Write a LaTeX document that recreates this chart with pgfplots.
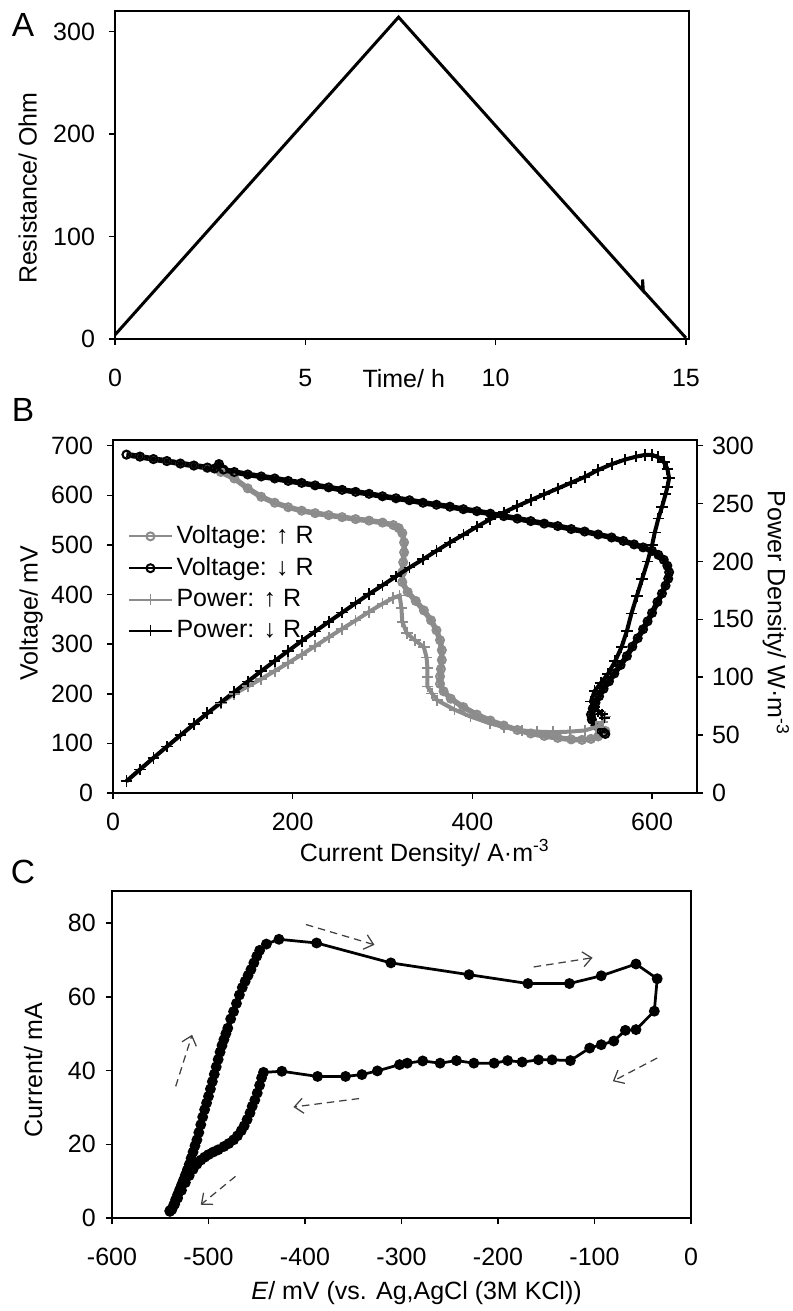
\documentclass[border=0pt]{standalone}
\usepackage{fontspec}
\setmainfont{Liberation Sans}
\usepackage{pgfplots}
\pgfplotsset{compat=1.18}
\usetikzlibrary{arrows.meta}
\definecolor{grayR}{gray}{0.55}
\definecolor{arr}{gray}{0.25}
\begin{document}
\fontsize{10}{12}\selectfont
\begin{tikzpicture}
\useasboundingbox (0,0) rectangle (317.2pt,524.4pt);
\pgfplotsset{
  every axis/.append style={scale only axis, anchor=south west,
    axis line style={line width=0.8pt}, tick style={line width=0.6pt, black},
    tick align=outside, major tick length=2.5pt,
    tick label style={font=\fontsize{10}{12}\selectfont},
    label style={font=\fontsize{10}{12}\selectfont},
    /pgf/number format/assume math mode=true},
  voltUp/.style={grayR, line width=2.2pt, mark=o, mark size=1.6pt, mark options={line width=0.8pt, solid}},
  voltDown/.style={black, line width=2.2pt, mark=o, mark size=1.6pt, mark options={line width=0.8pt, solid}},
  powUp/.style={grayR, line width=1.6pt, mark=+, mark size=2.3pt, mark options={line width=0.7pt, solid}},
  powDown/.style={black, line width=1.6pt, mark=+, mark size=2.3pt, mark options={line width=0.7pt, solid}},
  arrw/.style={arr, line width=0.5pt, densely dashed, -{Straight Barb[length=3.5pt,width=6pt]}},
}
% ---------------- Panel A ----------------
\node[font=\fontsize{13.4}{16}\selectfont] at (9.2pt,514.4pt) {A};
\begin{axis}[at={(46pt,388.8pt)}, width=229.6pt, height=131.2pt,
  xmin=0, xmax=15.08, ymin=0, ymax=320,
  xtick={0,5,10,15}, ytick={0,100,200,300}, tick pos=left,
  xticklabel style={yshift=-6pt}, yticklabel style={xshift=-2pt},
  xlabel={Time/ h}, xlabel style={at={(axis description cs:0.503,0)}, anchor=north, yshift=-8.5pt},
  ylabel={Resistance/ Ohm}, ylabel style={at={(axis description cs:-0.152,0.46)}, anchor=center}]
\addplot[black, line width=1.2pt] coordinates {(0,4) (7.45,314) (13.86,47.5) (13.86,58) (13.88,47) (15,1)};
\end{axis}
% ---------------- Panel B ----------------
\node[font=\fontsize{13.4}{16}\selectfont] at (9.2pt,360.4pt) {B};
\begin{axis}[at={(45.2pt,207.2pt)}, width=233.6pt, height=141.2pt,
  xmin=0, xmax=650, ymin=0, ymax=711.5,
  xtick={0,200,400,600}, ytick={0,100,200,300,400,500,600,700}, tick pos=left,
  xticklabel style={yshift=-2pt}, yticklabel style={xshift=-2pt},
  xlabel={Current Density/ A·m\textsuperscript{-3}}, xlabel style={at={(axis description cs:0.534,0)}, anchor=center, yshift=-24pt},
  ylabel={Voltage/ mV}, ylabel style={at={(axis description cs:-0.140,0.51)}, anchor=center},
  legend style={at={(axis description cs:0.025,0.77)}, anchor=north west, draw=none, fill=none,
    font=\fontsize{10}{12}\selectfont, inner sep=0pt, row sep=1pt, nodes={inner sep=1.5pt}},
  legend image post style={line width=0.8pt},
  legend cell align=left]
\addplot[voltUp] coordinates {
(15,682) (30,678) (45,673) (60,669) (75,664) (90,660) (105,655) (120,647) (135,634) (150,614)
(165,597) (180,585) (195,576) (210,569) (225,564) (240,560) (255,556) (270,552) (285,549) (300,545)
(312,540) (318,534) (322,524) (324,505) (324,485) (323,465) (322,445) (322,425) (328,405) (337,387)
(346,368) (354,348) (360,328) (364,308) (366,288) (366,268) (365,250) (364,235) (364,220) (368,205)
(376,190) (390,173) (405,158) (420,146) (435,136) (450,127) (465,120) (480,115) (495,111) (510,108)
(522,107) (532,109) (540,114) (546,121) (548,125)};
\addlegendentry{Voltage: ↑ R}
\addplot[voltDown] coordinates {
(15,682) (30,678) (45,673) (60,669) (75,664) (90,660) (105,656) (113,654) (118,663) (123,652)
(135,647) (150,642) (165,638) (180,634) (195,629) (210,625) (225,620) (240,616) (255,611) (270,607)
(285,603) (300,598) (315,594) (330,590) (345,585) (360,581) (375,577) (390,572) (405,568) (420,563)
(435,558) (450,553) (465,548) (480,543) (495,538) (510,532) (525,527) (540,521) (555,515) (568,508)
(580,501) (590,495) (600,488) (607,480) (613,470) (617,458) (619,445) (618,432) (615,418) (611,402)
(606,385) (600,363) (595,346) (590,330) (584,312) (578,295) (572,276) (565,258) (558,241) (552,225)
(546,210) (541,195) (537,182) (534,170) (532,158) (533,148) (537,136) (542,128) (546,122) (548,119)};
\addlegendentry{Voltage: ↓ R}
\addlegendimage{powUp}
\addlegendentry{Power: ↑ R}
\addlegendimage{powDown}
\addlegendentry{Power: ↓ R}
\end{axis}
\begin{axis}[at={(45.2pt,207.2pt)}, width=233.6pt, height=141.2pt,
  xmin=0, xmax=650, ymin=0, ymax=304.9,
  axis x line=none, axis y line*=right, ytick pos=right,
  ytick={0,50,100,150,200,250,300},
  ylabel={Power Density/ W·m\textsuperscript{-3}},
  ylabel style={at={(axis description cs:1.135,0.51)}, anchor=center, rotate=180}]
\addplot[powUp] coordinates {
(15,10.2) (30,20.3) (45,30.3) (60,40.1) (75,49.8) (90,59.4) (105,68.8) (120,77.6) (135,85.6) (150,92.1)
(165,98.5) (180,105.3) (195,112.3) (210,119.5) (225,126.9) (240,134.4) (255,141.8) (270,149.0) (285,156.5) (300,163.5)
(312,168.5) (319,170.5) (321,160) (322,148) (327,138) (336,132) (346,126) (349,117) (350,108) (350,100)
(350,92) (355,86) (361,80) (380,72) (398,66) (420,60) (435,57) (455,54) (472,53) (490,52.5)
(509,53) (525,54) (538,57) (545,61) (548,66)};
\addplot[powDown] coordinates {
(15,10.2) (30,20.3) (45,30.3) (60,40.1) (75,49.8) (90,59.4) (105,68.9) (120,78.2) (135,87.3) (150,96.3)
(165,105.3) (180,114.1) (195,122.7) (210,131.3) (225,139.5) (240,147.8) (255,155.8) (270,163.9) (285,171.9) (300,179.4)
(315,187.1) (330,194.7) (345,201.8) (360,209.2) (375,216.4) (390,223.1) (405,230.0) (420,236.5) (435,242.4) (450,247.8)
(465,253.0) (480,258.0) (495,263.0) (510,268) (525,273) (540,279) (555,284) (570,288) (582,290.5) (592,292)
(600,292) (607,290) (613,286) (617,280) (619,272) (617,264) (615,258) (611,247) (607,237) (603,225)
(600,214) (595,200) (589,185) (583,170) (577,155) (572,140) (566,126) (559,114) (551,103) (543,95)
(536,88) (532,79) (536,74) (540,71) (544,68) (547,65)};
\end{axis}
% ---------------- Panel C ----------------
\node[font=\fontsize{13.4}{16}\selectfont] at (9.2pt,175.6pt) {C};
\begin{axis}[at={(44.8pt,37.2pt)}, width=231.6pt, height=130.8pt,
  xmin=-600, xmax=0, ymin=0, ymax=88.7,
  xtick={-600,-500,-400,-300,-200,-100,0}, xticklabels={-600,-500,-400,-300,-200,-100,0},
  ytick={0,20,40,60,80}, tick pos=left,
  xticklabel style={yshift=-6pt}, yticklabel style={xshift=-0.5pt},
  xlabel={\textit{E}/ mV (vs. Ag,AgCl (3M KCl))}, xlabel style={at={(axis description cs:0.526,0)}, anchor=center, yshift=-30pt},
  ylabel={Current/ mA}, ylabel style={at={(axis description cs:-0.136,0.453)}, anchor=center}]
\addplot[black, line width=1.1pt, mark=*, mark size=1.6pt] coordinates {
(-540,2.0) (-538,2.3) (-536,3.6) (-534,5.0) (-532,6.3) (-530,7.6) (-528,8.9) (-526,10.2) (-524,11.6) (-522,13.0)
(-520,14.5) (-518,16.2) (-516,17.9) (-514,19.6) (-512,21.2) (-510,23.2) (-508,25.3) (-506,27.4) (-504,29.4) (-502,31.2)
(-500,33) (-498,35) (-496,37) (-494,39) (-492,41) (-490,43) (-488,45) (-486,46.8) (-484,48.4) (-482,50)
(-480,51.5) (-477,54) (-474,56) (-471,58.2) (-468,60.5) (-465,62.5) (-462,64.2) (-459,65.8) (-456,67.4) (-453,69.2)
(-450,71.0) (-447,72.6) (-440,74.3) (-427,75.6) (-388,74.6) (-311,69.2) (-230,66.0) (-169,63.6) (-126,63.6) (-93,65.7)
(-57,68.9) (-35,64.9) (-38,56.1) (-57,51.1) (-68,50.9) (-80,48.0) (-93,47.0) (-105,46.1) (-125,42.7) (-144,42.9)
(-158,42.9) (-175,42.3) (-190,42.7) (-204,42.0) (-225,42.0) (-243,42.7) (-260,42.0) (-278,42.6) (-294,42.0) (-302,41.6)
(-325,39.9) (-341,38.9) (-358,38.4) (-387,38.4) (-424,39.8) (-443,39.5) (-445,38) (-447,36) (-449.5,33.9) (-452,32)
(-454.7,30.3) (-457,28.5) (-460,26.7) (-463,25) (-466,23.7) (-470,22.3) (-474,21.2) (-479,20.2) (-484,19.4) (-490,18.5)
(-495,17.9) (-500,17.2) (-504,16.5) (-508,15.7) (-512,14.6) (-516,13.2) (-520,11.5) (-524,9.6) (-528,7.5) (-532,5.4)
(-535,3.8) (-538,2.4) (-540,1.8)};
\addplot[arrw] coordinates {(-399,79.6) (-328,74.1)};
\addplot[arrw] coordinates {(-163,68.1) (-102,70.6)};
\addplot[arrw] coordinates {(-35,43.4) (-81,37.1)};
\addplot[arrw] coordinates {(-344,32.4) (-412,30.1)};
\addplot[arrw] coordinates {(-472,11.3) (-508,3.6)};
\addplot[arrw] coordinates {(-534,35.7) (-517,49.7)};
\end{axis}
\end{tikzpicture}
\end{document}
